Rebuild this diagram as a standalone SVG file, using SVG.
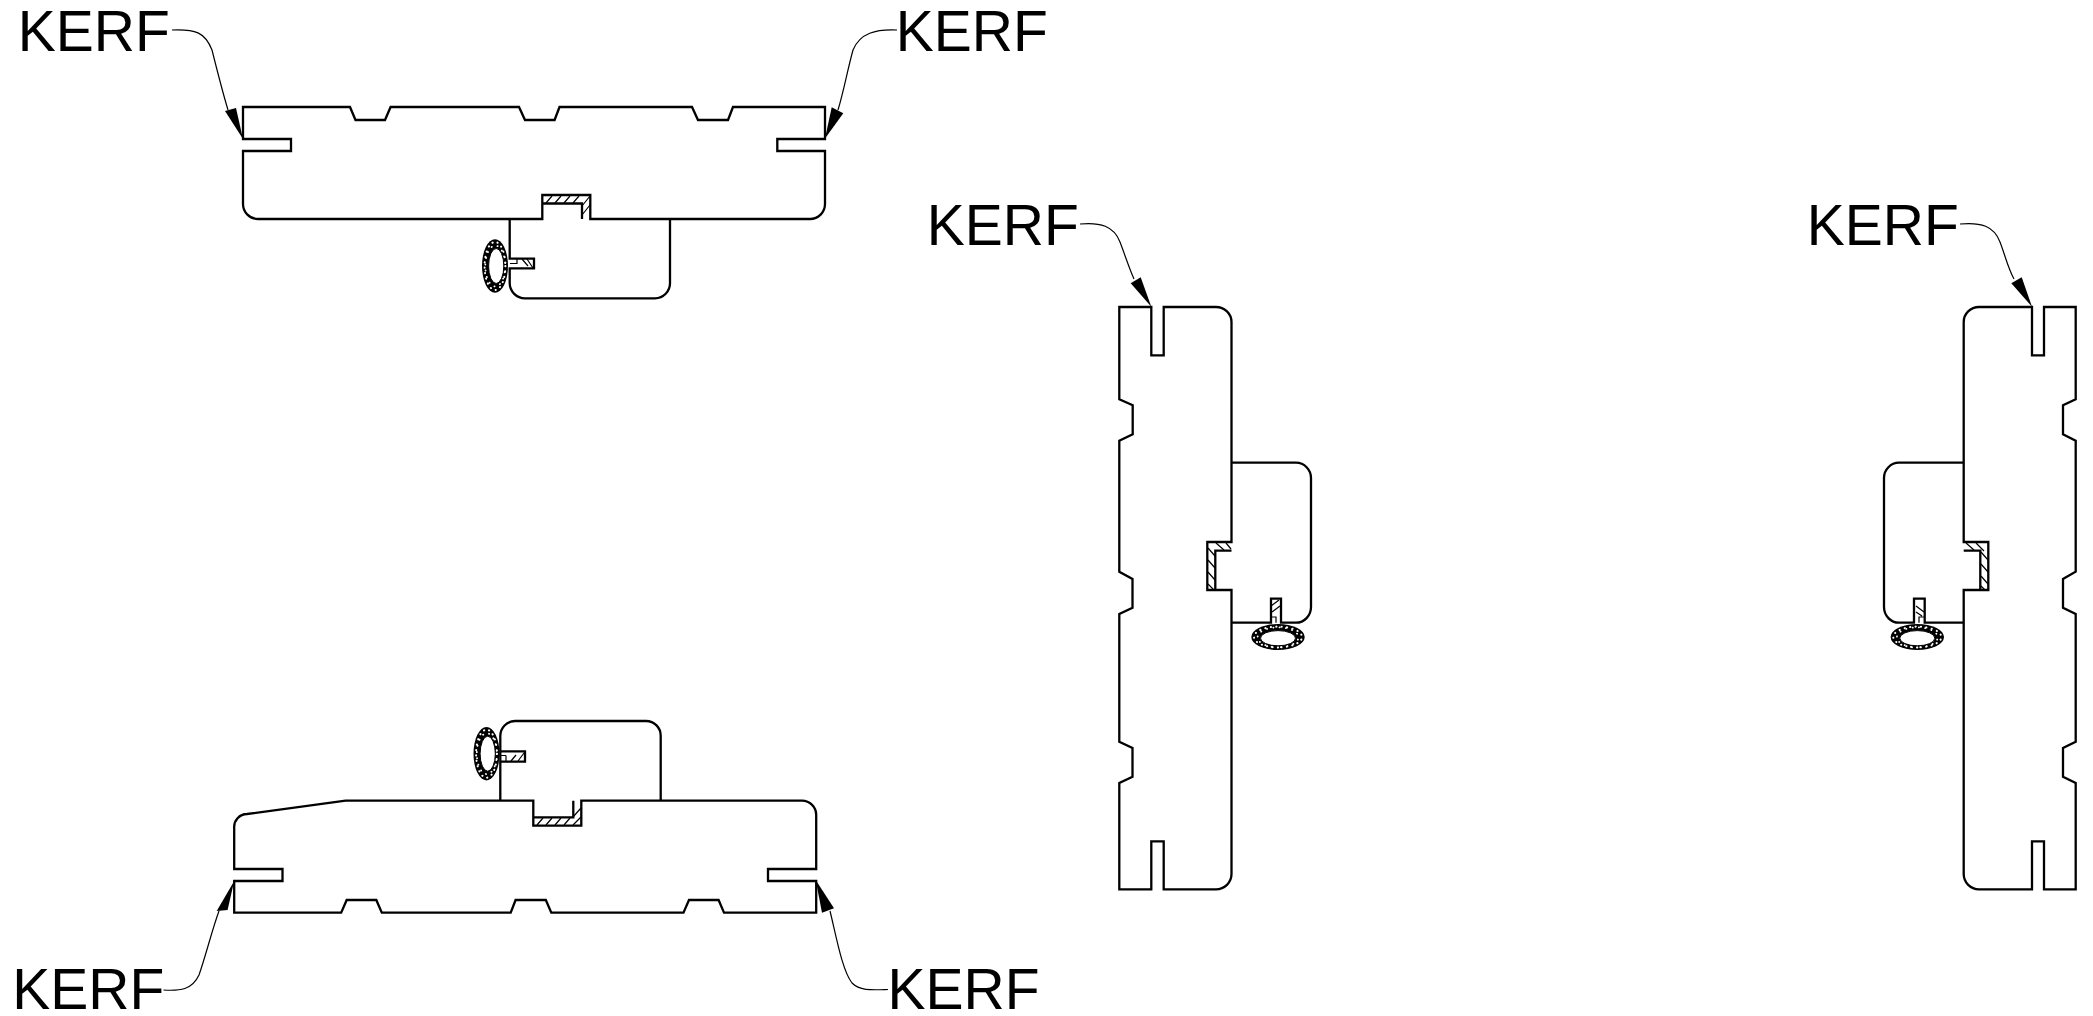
<svg xmlns="http://www.w3.org/2000/svg" xmlns:xlink="http://www.w3.org/1999/xlink" width="2093" height="1016" viewBox="0 0 2093 1016">
<style>
.o{fill:none;stroke:#000;stroke-width:2.3;stroke-linejoin:miter}
.h{fill:none;stroke:#000;stroke-width:1.2}
.l{fill:none;stroke:#000;stroke-width:1.2}
.a{fill:#000}
.d{fill:none;stroke:#fff;stroke-linecap:round}
text{font-family:"Liberation Sans",Arial,sans-serif;font-size:57px;fill:#000}
</style>
<defs>
<g id="gasket">
<ellipse cx="0" cy="0" rx="13" ry="26.7" fill="#000"/>
<ellipse class="d" cx="0" cy="0" rx="10.4" ry="24" stroke-width="2" stroke-dasharray="0.2 5.2"/>
<ellipse class="d" cx="0.3" cy="0" rx="10" ry="20.4" stroke-width="1.8" stroke-dasharray="0.2 6.1"/>
<ellipse cx="1.2" cy="0" rx="7.6" ry="17.5" fill="#fff" stroke="#000" stroke-width="1"/>
</g>
</defs>
<rect width="2093" height="1016" fill="#fff"/>
<g id="connectors">
<path class="l" d="M172 30C195 29 205 32 212 50C217 70 222 90 228 110"/>
<path class="a" d="M243 139L225 111L236 108Z"/>
<path class="l" d="M897 30C876 29 860 33 853 50C847 72 844 90 838 110"/>
<path class="a" d="M825 138.5L831.7 107.3L843.3 113.3Z"/>
<path class="l" d="M1080 224C1100 222 1114 226 1120 242C1125 255 1129 268 1134 279"/>
<path class="a" d="M1151.3 306.7L1130.7 283.3L1140.7 277.3Z"/>
<path class="l" d="M1960 224C1981 222 1994 226 2000 242C2005 255 2008 268 2014 279"/>
<path class="a" d="M2032 306.7L2011.3 283.3L2021.7 277.3Z"/>
<path class="l" d="M163.5 990C180 991 192 990 199 975C206 955 212 930 219 911"/>
<path class="a" d="M234.2 881L216.7 911L227.6 910Z"/>
<path class="l" d="M888 989.5C872 990 860 991 852 983C842 970 836 935 830 911"/>
<path class="a" d="M815.7 880L822 912.7L834 908.3Z"/>
</g>
<g id="board-top">
<path class="o" d="M243 139V107H350L355.5 120H385L390.6 107H519L525 120H554.6L559.5 107H692L698 120H728L733 107H825V139H777.3V151H825V204A15 15 0 0 1 810 219H590.3V195H542.3V219H258A15 15 0 0 1 243 204V151H291V139Z"/>
<path class="o" d="M542.3 203.5H582V219"/>
<path class="h" d="M546 203L552 196M555 203L561 196M564 203L570 196M573 203L579 196M582 206L590 196M582 215L590 205"/>
<path class="o" d="M509.7 219V258.7H534V268.3H509.7V283A15.3 15.3 0 0 0 525 298.3H655A15 15 0 0 0 670 283V219"/>
<path class="h" d="M510 263.5H517V258.7M522 259L528 266M527 259L533 268"/>
<use xlink:href="#gasket" href="#gasket" x="495" y="266"/>
</g>
<g id="board-bottom">
<path class="o" d="M234.2 869V828A13 13 0 0 1 247 814L345.6 800.7H533.3V825.7H581.3V800.7H802A14.2 14.2 0 0 1 816.2 815V869H768V881H816.2V912.7H724L718.6 900H689L683.5 912.7H551.3L545.8 900H515.6L510.7 912.7H381.8L376.3 900H346.7L341.2 912.7H234.2V881H282.5V869Z"/>
<path class="o" d="M533.3 817.3H573.3V800.7"/>
<path class="h" d="M537 825L543 818M546 825L552 818M555 825L561 818M564 825L570 818M573 817L581 808M573 825L581 817"/>
<path class="o" d="M500.3 800.7V736A15 15 0 0 1 515 721H646A14.7 14.7 0 0 1 660.7 736V800.7"/>
<path class="o" d="M500.3 751.3H525V761.7H500.3"/>
<path class="h" d="M506 755.5V761M506 755.5H501M511 761L516 755M518 761L524 753"/>
<use xlink:href="#gasket" href="#gasket" x="486.5" y="753.7"/>
</g>
<g id="board-left">
<path class="o" d="M1231.5 542V322A15.5 15 0 0 0 1216 307H1163.7V355.3H1151.3V307H1119.3V399.3L1132.7 405.3V434.3L1119.3 440.7V571.7L1132.5 579V607.7L1119.3 614V741.7L1132.5 748V776.7L1119.3 783V889.3H1151.3V841.3H1163.7V889.3H1216A15.5 15.3 0 0 0 1231.5 874V590H1207.3V542Z"/>
<path class="o" d="M1231.5 550.7H1215.3V590"/>
<path class="h" d="M1216 543L1224 550M1226 543L1231 549M1208 548L1215 556M1208 560L1215 568M1208 572L1215 580M1208 584L1214 590"/>
<path class="o" d="M1231.5 462.7H1296A15 15.3 0 0 1 1311 478V607A15 15.7 0 0 1 1296 622.7H1281V598.7H1271V622.7H1231.5"/>
<path class="h" d="M1271 606L1279 600M1272 612L1280 606M1276 622.7V617H1271"/>
<use xlink:href="#gasket" href="#gasket" transform="translate(1278 637) rotate(90)"/>
</g>
<g id="board-right">
<path class="o" d="M1963.7 542V322A15.3 15 0 0 1 1979 307H2032V355.3H2044V307H2075.7V399.3L2063 405.3V434.3L2075.7 440.7V571.7L2063 579V607.7L2075.7 614V741.7L2063 748V776.7L2075.7 783V889.3H2044V841.3H2032V889.3H1979A15.3 15.3 0 0 1 1963.7 874V590H1988.3V542Z"/>
<path class="o" d="M1963.7 550.7H1980.3V590"/>
<path class="h" d="M1966 543L1974 550M1976 543L1984 551M1981 552L1988 560M1981 564L1988 572M1981 576L1988 584M1981 586L1985 590"/>
<path class="o" d="M1963.7 462.7H1899A15 15.3 0 0 0 1884 478V607A15 15.7 0 0 0 1899 622.7H1914V598.7H1924.7V622.7H1963.7"/>
<path class="h" d="M1916 606L1924 612M1916 612L1922 616M1919 622.7V617H1924"/>
<use xlink:href="#gasket" href="#gasket" transform="translate(1917.3 637) rotate(90)"/>
</g>
<g id="labels">
<text x="17.7" y="51">KERF</text>
<text x="895.7" y="51">KERF</text>
<text x="926.7" y="245">KERF</text>
<text x="1806.7" y="245">KERF</text>
<text x="12.2" y="1008.5">KERF</text>
<text x="887.5" y="1008.5">KERF</text>
</g>
</svg>
